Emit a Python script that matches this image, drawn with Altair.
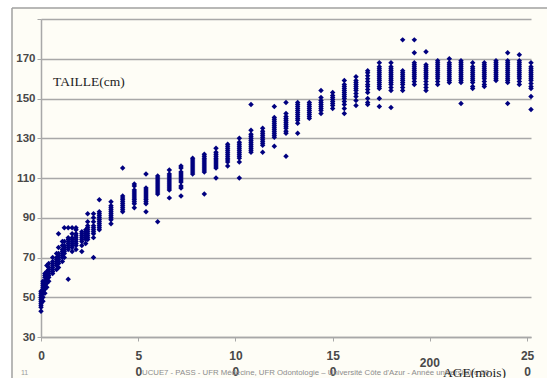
import altair as alt
import pandas as pd

# ---- data ----
ages = [0, 1, 2, 3, 4, 6, 8, 9, 11, 12, 14, 16, 18, 21, 23, 24, 27, 30, 36,
        42, 48, 54, 60, 66, 72, 78, 84, 90, 96, 102, 108, 114, 120, 126, 132,
        138, 144, 150, 156, 162, 168, 174, 180, 186, 192, 198, 204, 210, 216,
        222, 228, 234, 240, 246, 252]

heights = [
    [43, 45, 46, 47, 48, 49, 50, 51, 52, 53],
    [48, 50, 52, 53, 54, 55, 56, 57, 58],
    [52, 54, 55, 56, 57, 58, 60, 61, 62],
    [55, 57, 58, 59, 60, 61, 62, 63, 66],
    [58, 60, 61, 62, 63, 64, 65, 67],
    [62, 63, 64, 65, 66, 67, 68, 70],
    [64, 66, 67, 68, 69, 70, 72],
    [65, 67, 68, 69, 70, 71, 72, 75, 82],
    [68, 70, 71, 72, 73, 74, 76, 78],
    [70, 72, 73, 74, 75, 76, 78, 85],
    [59, 74, 75, 76, 77, 78, 79, 80, 85],
    [73, 75, 76, 77, 78, 79, 80, 82, 85],
    [74, 76, 77, 78, 79, 80, 81, 82, 84, 85],
    [73, 76, 78, 79, 80, 81, 82, 83],
    [77, 79, 80, 81, 82, 83, 84],
    [79, 80, 81, 82, 83, 84, 85, 86, 88, 92],
    [70, 80, 82, 83, 84, 85, 86, 88, 90, 92],
    [84, 85, 86, 87, 88, 89, 90, 91, 92, 93, 99],
    [87, 89, 90, 91, 92, 93, 94, 95, 96, 98],
    [93, 94, 95, 96, 97, 98, 99, 100, 101, 115],
    [95, 97, 98, 99, 100, 101, 102, 103, 104, 106, 107],
    [93, 97, 98, 99, 100, 101, 102, 103, 104, 105, 112],
    [88, 102, 103, 104, 105, 106, 107, 108, 109, 110, 111],
    [100, 104, 105, 106, 107, 108, 109, 110, 111, 112, 114],
    [101, 105, 106, 108, 109, 110, 111, 112, 113, 115, 116],
    [112, 113, 114, 115, 116, 117, 118, 119, 120],
    [102, 113, 114, 115, 116, 117, 118, 119, 120, 121, 122],
    [110, 115, 116, 117, 118, 119, 120, 121, 122, 123, 125],
    [116, 118, 119, 120, 121, 122, 123, 124, 125, 126, 127],
    [110, 118, 120, 121, 122, 123, 124, 125, 126, 127, 128, 130],
    [123, 124, 125, 126, 127, 128, 129, 130, 131, 132, 134, 147],
    [123, 126.5, 127.5, 128.5, 129.5, 130.5, 131.5, 132.5, 133.5, 135],
    [126, 130.5, 131.5, 132.5, 133.5, 134.5, 135.5, 136.5, 137.5, 138.5, 139.5, 140.5, 146],
    [121, 132.5, 133.5, 135, 136, 137, 138, 139, 140, 141, 142.5, 148],
    [132.5, 137.5, 139, 140, 141, 142, 143, 144, 145, 146, 147, 148],
    [140, 141, 142, 143, 144, 145, 146, 147, 148],
    [142.5, 144, 145, 146, 147, 148, 149, 150.5, 154],
    [145, 146.5, 147.5, 148.5, 149.5, 150.5, 151.5, 153],
    [142.5, 145, 147, 148.5, 150, 151, 152, 153, 154, 155, 156, 157, 159],
    [146.5, 149, 151, 152.5, 154, 155, 156, 157, 158, 159, 161],
    [147, 148, 150, 153, 154.5, 156, 157, 158.5, 160, 161.5, 163, 164],
    [146, 150, 155, 156, 157, 158, 159, 160, 161, 162, 163, 164, 165, 166, 168],
    [145.5, 154, 155.5, 157, 158, 159, 160, 161, 162, 163, 164, 165, 166, 168],
    [154, 155.5, 157, 158, 159, 160, 161, 162, 163, 164, 179.5],
    [157, 158.5, 160, 161, 162, 163, 164, 165, 166, 167, 168, 173, 179.5],
    [154, 155.5, 157, 158.5, 160, 161, 162, 163, 164, 165, 166, 167, 173.5],
    [157, 158.5, 160, 161, 162, 163, 164, 165, 166, 167, 168, 169],
    [158, 159, 160, 161, 162, 163, 164, 165, 166, 167, 168, 170],
    [147.5, 158, 159, 160, 161, 162, 163, 164, 165, 166, 167, 168, 169],
    [155, 156, 158, 159, 160, 161, 162, 163, 164, 165, 166, 168],
    [156, 157, 158.5, 160, 161, 162, 163, 164, 165, 166, 167, 168],
    [159, 160, 161, 162, 163, 164, 165, 166, 167, 168, 169],
    [147.5, 158, 159, 160, 161, 162, 163, 164, 165, 166, 167, 168, 169, 173],
    [157, 158.5, 160, 161, 162, 163, 164, 165, 166, 167, 168, 169, 172],
    [144.5, 151, 155, 156, 157.5, 159, 160, 161, 162, 163, 164, 165, 166, 168],
]

x_ticks = [0, 50, 100, 150, 200, 250]
y_ticks = [30, 50, 70, 90, 110, 130, 150, 170, 190]
footer = "UCUE7 - PASS - UFR Médecine, UFR Odontologie – Université Côte d'Azur - Année universitaire 20"

rows = [{"age": a, "taille": h} for a, hs in zip(ages, heights) for h in hs]
df = pd.DataFrame(rows)
one = pd.DataFrame({"k": [0]})

GRID = "#a8a8a8"
LAB = "#484848"
xscale = alt.Scale(domain=[0, 252], nice=False, zero=False)
yscale = alt.Scale(domain=[30, 190], nice=False, zero=False)

# decorations: white margin outside the slide frame and the frame lines
strip_left = alt.Chart(one).mark_rect(color="white").encode(
    x=alt.value(-41), x2=alt.value(-29.5), y=alt.value(-19), y2=alt.value(359))
strip_top = alt.Chart(one).mark_rect(color="white").encode(
    x=alt.value(-41), x2=alt.value(506), y=alt.value(-19), y2=alt.value(-11.5))
frame_left = alt.Chart(one).mark_rule(color="#a0a0a0", strokeWidth=1.5).encode(
    x=alt.value(-29), y=alt.value(-11), y2=alt.value(359))
frame_top = alt.Chart(one).mark_rule(color="#a0a0a0", strokeWidth=1.5).encode(
    x=alt.value(-29), x2=alt.value(506), y=alt.value(-11))

points = alt.Chart(df).mark_point(
    shape="diamond", filled=True, size=30, color="#00007f", opacity=1
).encode(
    x=alt.X("age:Q", scale=xscale, axis=alt.Axis(
        values=x_ticks, grid=False, title=None,
        labelExpr="datum.value == 0 ? '0' : (datum.value == 200 ? '' : [slice(datum.label, 0, -1), '0'])",
        labelFlush=False, labelOverlap=False, labelPadding=9, labelBaseline="top",
        labelLineHeight=16, tickSize=4, tickColor=GRID, domainColor=GRID,
        domainWidth=1.5, labelFontSize=12, labelColor=LAB, labelFontWeight="bold",
        labelFont="Liberation Sans")),
    y=alt.Y("taille:Q", scale=yscale, axis=alt.Axis(
        values=y_ticks, grid=True, title=None, gridColor=GRID, gridWidth=1.5,
        labelExpr="datum.value == 190 ? '' : datum.label",
        tickSize=4, tickColor=GRID, domainColor=GRID, domainWidth=1.5,
        labelPadding=2, labelFontSize=11.5, labelColor=LAB, labelFontWeight="bold",
        labelFont="Liberation Sans", labelFlush=False, labelOverlap=False)),
)

lab200 = alt.Chart(pd.DataFrame({"age": [200], "lab": ["200"]})).mark_text(
    fontSize=12, font="Liberation Sans", fontWeight="bold", color=LAB,
    align="center", baseline="middle"
).encode(x=alt.X("age:Q", scale=xscale), y=alt.value(344), text="lab:N")

foot = alt.Chart(one).mark_text(
    text=footer, fontSize=7.8, font="Liberation Sans", color="#8c8c8c",
    align="left", baseline="middle").encode(x=alt.value(101), y=alt.value(354))
pagenum = alt.Chart(one).mark_text(
    text="11", fontSize=7, font="Liberation Sans", color="#9a9a9a",
    align="left", baseline="middle").encode(x=alt.value(-20), y=alt.value(354))
ytitle = alt.Chart(one).mark_text(
    text="TAILLE(cm)", fontSize=13.5, font="Liberation Serif", color="#222222",
    align="left", baseline="middle").encode(x=alt.value(12), y=alt.value(63))
xtitle = alt.Chart(one).mark_text(
    text="AGE(mois)", fontSize=13.5, font="Liberation Serif", color="#222222",
    align="left", baseline="middle").encode(x=alt.value(402), y=alt.value(354))

chart = alt.layer(
    strip_left, strip_top, frame_left, frame_top, foot, pagenum,
    points, lab200, ytitle, xtitle
).properties(
    width=490, height=318,
    padding={"left": 41, "top": 19, "right": 16, "bottom": 41},
    autosize=alt.AutoSizeParams(type="none"),
).configure(background="#fefdf6").configure_view(strokeWidth=0)

chart.save("out.html", embed_options={"renderer": "svg", "actions": False})
